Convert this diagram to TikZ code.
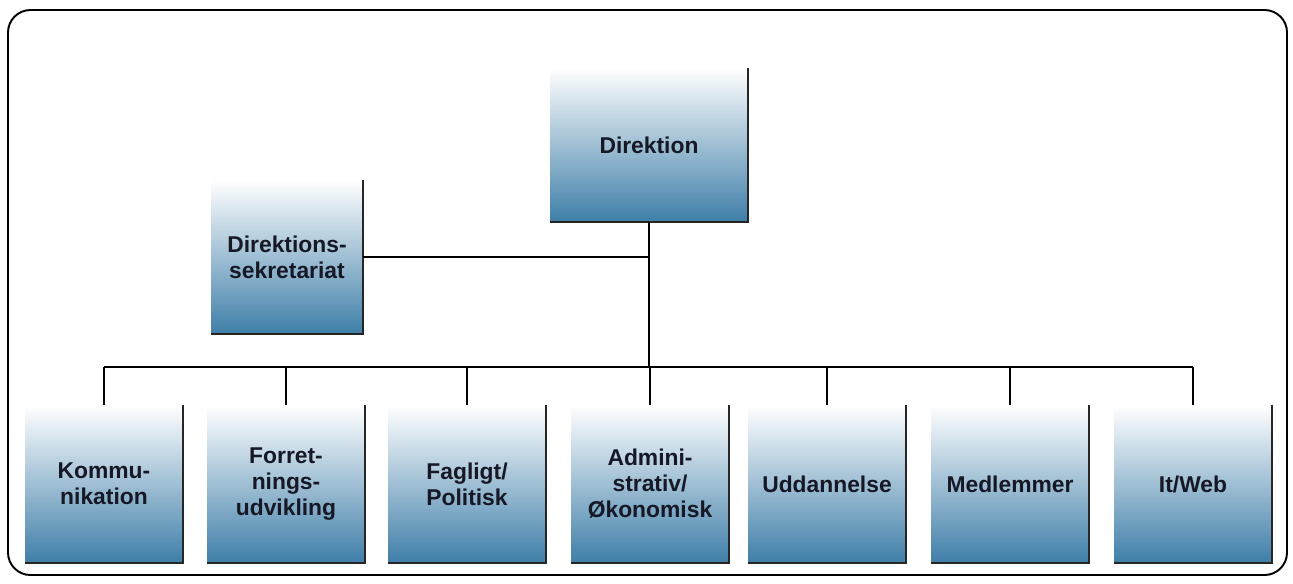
\documentclass[tikz,border=0pt]{standalone}
\usepackage{fontspec}
\setmainfont{Liberation Sans}
\usepackage{xcolor}
\definecolor{unitblue}{RGB}{62,126,168}
\definecolor{unitink}{RGB}{22,24,38}

\begin{document}
\begin{tikzpicture}[
        x=0.02cm,
        y=-0.02cm,
        unit/.style={
                inner sep=2pt,
                align=center,
                text=unitink,
                font=\bfseries\fontsize{13}{14.8}\selectfont,
                top color=white,
                bottom color=unitblue,
                minimum width=3.14cm,
                minimum height=3.16cm
                },
        rim/.style={
                line width=1.2pt,
                black!85
                },
        link/.style={
                line width=0.8pt,
                black
                }
        ]

\useasboundingbox (0,0) rectangle (1293,583);

%frame
\draw[
        line width=1.1pt,
        rounded corners=0.45cm
        ]
        (8,10) rectangle (1287,575);

%top units
\node[
        unit,
        minimum width=3.96cm,
        minimum height=3.08cm
        ] (dir) at (649,145) {Direktion};
\node[
        unit,
        minimum width=3.04cm,
        minimum height=3.08cm
        ] (sek) at (287,257) {Direktions-\\sekretariat};
\foreach \name in {dir,sek}
\draw[rim] (\name.north east) -- (\name.south east) -- (\name.south west);

%bottom units
\foreach \name/\x/\txt in {kom/104/{Kommu-\\nikation},
                           for/286/{Forret-\\nings-\\udvikling},
                           fag/467/{Fagligt/\\Politisk},
                           adm/650/{Admini-\\strativ/\\Økonomisk},
                           udd/827/{Uddannelse},
                           med/1010/{Medlemmer},
                           web/1193/{It/Web}}
{
\node[unit] (\name) at (\x,484) {\txt};
\draw[rim] (\name.north east) -- (\name.south east) -- (\name.south west);
}

%connectors
\coordinate (bar) at (649,367);
\draw[link] (dir.south) -- (bar);
\draw[link] (sek.east) -- (sek.east -| dir.south);
\draw[link] (kom.north |- bar) -- (web.north |- bar);
\foreach \name in {kom,for,fag,adm,udd,med,web}
\draw[link] (\name.north |- bar) -- (\name.north);
\end{tikzpicture}
\end{document}
